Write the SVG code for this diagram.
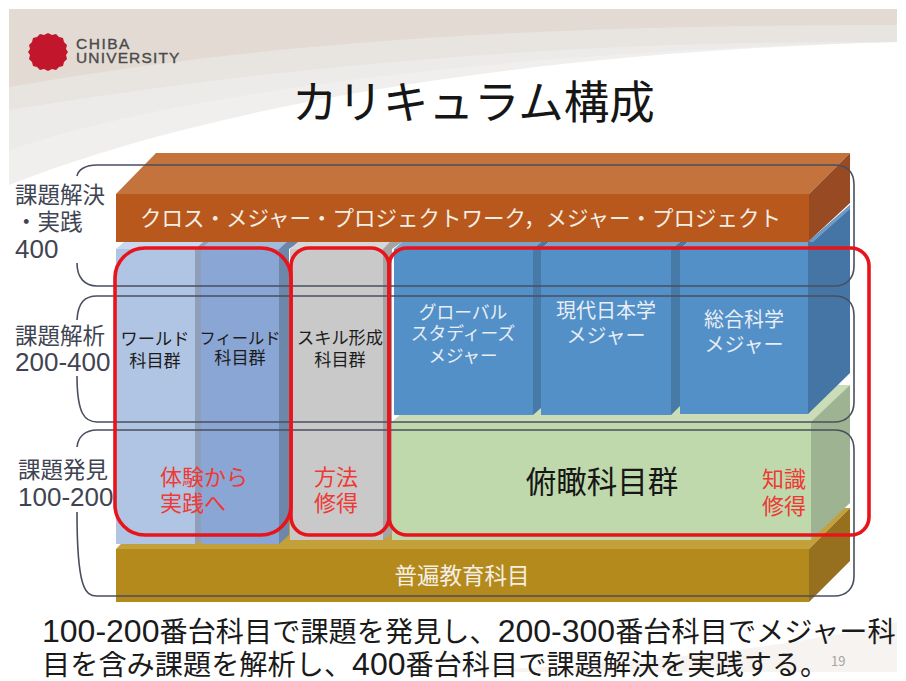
<svg xmlns="http://www.w3.org/2000/svg" width="906" height="681" viewBox="0 0 906 681">
<style>
text{font-family:"Noto Sans CJK JP","Noto Sans",sans-serif}
.lvl{font-size:22.5px;fill:#3f4452}
.num{font-size:26px;fill:#3f4452;font-family:"Liberation Sans",sans-serif}
.w{fill:#f4efe6;font-size:22.5px}
.k{fill:#1c1c1c;font-size:17.2px}
.r{fill:#ee3a36;font-size:22px}
.b{fill:#e8eef5;font-size:20px}
.band{fill:none;stroke:#4a4f5f;stroke-width:1.6}
.red{fill:none;stroke:#e8141c;stroke-width:3.6}
.m{text-anchor:middle}
.sum{font-size:28.2px;fill:#1a1a1a}
.d{font-size:32px;font-family:"Liberation Sans",sans-serif}
.logo{font-size:15.5px;fill:#4a4a4a;stroke:#4a4a4a;stroke-width:.35;font-family:"Liberation Sans",sans-serif}
</style>
<g id="background">
<rect width="906" height="681" fill="#fff"/>
<path d="M9 185C250 90 600 50 897 42V9H9Z" fill="#f0efed"/>
<path d="M9 150C200 85 550 50 897 42V9H9Z" fill="#ecebe9"/>
<path d="M9 110C250 70 550 40 897 42V9H9Z" fill="#e8e4e0"/>
<path d="M9 87C250 45 500 25 897 25V9H9Z" fill="#e3dad4"/>
<path d="M9 672H420C600 668 780 650 897 622V672Z" fill="#f6f3f1"/>
</g>
<g id="logo">
<path d="M48 33l4 2 4-1 3 3 4 1 1 4 3 3-1 4 2 3-2 3 1 4-3 3-1 4-4 1-3 3-4-1-4 2-4-2-4 1-3-3-4-1-1-4-3-3 1-4-2-3 2-3-1-4 3-3 1-4 4-1 3-3 4 1z" fill="#c2162c"/>
<text class="logo" x="76" y="48.5" letter-spacing="1.5">CHIBA</text>
<text class="logo" x="76" y="62.5" letter-spacing="1.15">UNIVERSITY</text>
</g>
<text id="title" x="292" y="119" font-size="45.5" fill="#161616">カリキュラム構成</text>

<g id="kyoyo">
<path d="M116 549L156 508H850L809 549Z" fill="#c3a03a"/>
<path d="M809 549L850 508V561L809 602Z" fill="#96701f"/>
<rect x="116" y="549" width="693" height="53" fill="#b58a1c"/>
<text class="w m" x="462" y="584">普遍教育科目</text>
</g>
<g id="fukan">
<path d="M392 422L432 385H850L812 422Z" fill="#cbdcb8"/>
<path d="M811 422L850 385V503L811 540Z" fill="#9eb391"/>
<rect x="392" y="422" width="419" height="118" fill="#bfd9ac"/>
<text class="m" x="602" y="493" font-size="30.5" fill="#171717">俯瞰科目群</text>
<text class="r m" x="784" y="487">知識</text>
<text class="r m" x="784" y="514">修得</text>
</g>
<g id="global-major">
<path d="M394 249L402 242H541L533 249Z" fill="#7ba3c9"/>
<rect x="394" y="249" width="139" height="166" fill="#5490c8"/>
<path d="M533 249L541 242H549L541 249V408L533 415Z" fill="#477aa6"/>
<text class="m" x="463" y="319" font-size="17.8" fill="#e8eef5">グローバル</text>
<text class="m" x="463" y="340" font-size="17.8" fill="#e8eef5">スタディーズ</text>
<text class="m" x="463" y="362" font-size="17.5" fill="#e8eef5">メジャー</text>
</g>
<g id="gendai-major">
<path d="M541 249L549 242H680L671 249Z" fill="#7ba3c9"/>
<rect x="541" y="249" width="130" height="166" fill="#5490c8"/>
<path d="M671 249L680 242H688L680 249V406L671 415Z" fill="#477aa6"/>
<text class="b m" x="606" y="318">現代日本学</text>
<text class="b m" x="606" y="343">メジャー</text>
</g>
<g id="sogo-major">
<path d="M680 249L688 242H810L808 249Z" fill="#7ba3c9"/>
<rect x="680" y="249" width="128" height="165" fill="#5490c8"/>
<path d="M808 242L850 205V373L808 414Z" fill="#4575a5"/>
<path d="M809 242L850 205V209L813 242Z" fill="#6e9ccb"/>
<text class="b m" x="744" y="327">総合科学</text>
<text class="b m" x="744" y="352">メジャー</text>
</g>
<g id="world">
<path d="M116 249L124 242H203L195 249Z" fill="#c9d8ee"/>
<rect x="116" y="249" width="79" height="295" fill="#b0c5e3"/>
<path d="M195 249L203 242H210L201 249V540L195 544Z" fill="#8f9fba"/>
<text class="k m" x="155" y="345">ワールド</text>
<text class="k m" x="155" y="367">科目群</text>
</g>
<g id="field">
<path d="M201 249L209 242H289L279 249Z" fill="#a4bcdc"/>
<rect x="201" y="249" width="78" height="295" fill="#8aa6d4"/>
<path d="M279 249L287 242H300L289 249V535L279 544Z" fill="#6d87ab"/>
<text class="k m" x="240" y="344" style="font-size:16.3px">フィールド</text>
<text class="k m" x="240" y="364">科目群</text>
</g>
<g id="skill">
<path d="M290 249L298 242H392L383 249Z" fill="#d6d7d6"/>
<rect x="290" y="249" width="93" height="291" fill="#c8c9c8"/>
<path d="M383 249L390 242H402L392 249V534L383 540Z" fill="#a3a4a3"/>
<text class="k m" x="340" y="344">スキル形成</text>
<text class="k m" x="340" y="366">科目群</text>
</g>
<g id="cross-major">
<path d="M116 194L156 153H850L809 194Z" fill="#c4733d"/>
<path d="M809 194L850 153V203L809 241Z" fill="#984a22"/>
<rect x="116" y="194" width="693" height="48" fill="#b9581c"/>
<text x="140" y="226" fill="#f4efe6" font-size="21.5">クロス・メジャー・プロジェクトワーク，メジャー・プロジェクト</text>
</g>
<g id="connectors">
<path class="band" d="M77 176C78 170 85 165 97 165H834C847 165 854 172 854 185V266C854 278 847 286 834 286H97C85 286 77 278 77 263"/>
<path class="band" d="M77 320C78 302 85 296 97 296H834C847 296 854 303 854 316V402C854 414 847 422 834 422H97C85 422 77 414 77 376"/>
<path class="band" d="M77 447C78 437 85 430 97 430H834C847 430 854 437 854 450V576C854 588 847 596 834 596H97C85 596 77 588 77 512"/>
<rect class="red" x="115" y="248" width="176" height="287" rx="30"/>
<rect class="red" x="291" y="248" width="98" height="287" rx="18"/>
<rect class="red" x="389" y="248" width="480" height="287" rx="18"/>
</g>
<g id="levels">
<text class="lvl" x="15" y="203">課題解決</text>
<text class="lvl" x="15" y="230">・実践</text>
<text class="num" x="15" y="258">400</text>
<text class="lvl" x="15" y="344">課題解析</text>
<text class="num" x="15" y="371">200-400</text>
<text class="lvl" x="18" y="478">課題発見</text>
<text class="num" x="18" y="506">100-200</text>
</g>
<g id="notes">
<text class="r m" x="204" y="485">体験から</text>
<text class="r" x="160" y="511">実践へ</text>
<text class="r m" x="336" y="485">方法</text>
<text class="r m" x="336" y="511">修得</text>
</g>
<g id="summary">
<text class="sum" x="42" y="642"><tspan class="d">100-200</tspan>番台科目で課題を発見し、<tspan class="d">200-300</tspan>番台科目でメジャー科</text>
<text class="sum" x="42" y="675">目を含み課題を解析し、<tspan class="d">400</tspan>番台科目で課題解決を実践する。</text>
<text x="831" y="666" font-size="13" fill="#a5a5a5">19</text>
</g>
</svg>
